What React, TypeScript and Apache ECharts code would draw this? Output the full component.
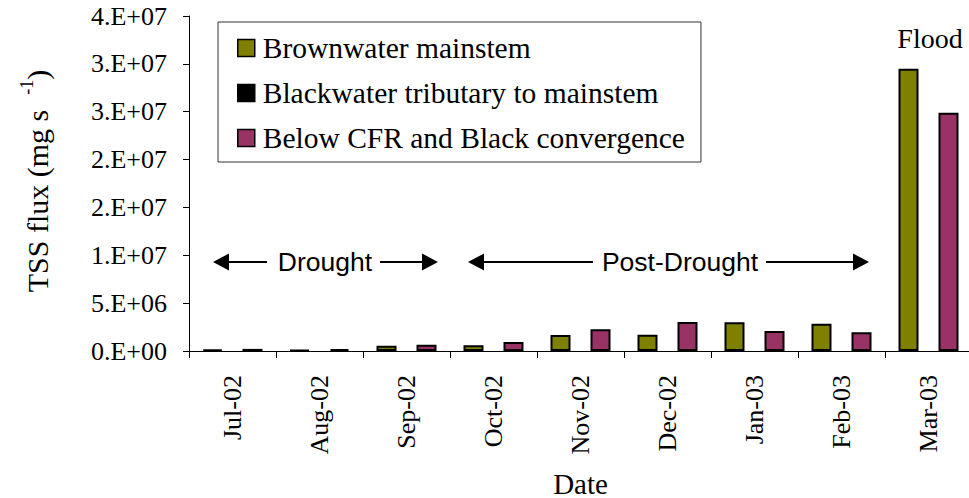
import React, { useEffect, useRef } from "react";
import * as echarts from "echarts";

const categories = ["Jul-02", "Aug-02", "Sep-02", "Oct-02", "Nov-02", "Dec-02", "Jan-03", "Feb-03", "Mar-03"];
const brownwater = [0.15e6, 0.1e6, 0.55e6, 0.6e6, 1.67e6, 1.7e6, 3.0e6, 2.86e6, 2.95e7];
const blackwater: (number | null)[] = [null, null, null, null, null, null, null, null, null];
const below = [0.22e6, 0.2e6, 0.66e6, 0.94e6, 2.27e6, 3.03e6, 2.1e6, 1.95e6, 2.49e7];
const yTickLabels = ["0.E+00", "5.E+06", "1.E+07", "2.E+07", "2.E+07", "3.E+07", "3.E+07", "4.E+07"];
const seriesNames = ["Brownwater mainstem", "Blackwater tributary to mainstem", "Below CFR and Black convergence"];

const SERIF = "Liberation Serif";
const SANS = "Liberation Sans";

export default function App() {
  const ref = useRef<HTMLDivElement>(null);
  useEffect(() => {
    document.body.style.margin = "0";
    const chart = echarts.init(ref.current!, null, { renderer: "svg" });
    const arrowY = 262;
    const head = (tipX: number, dir: number) => ({
      type: "polygon",
      shape: { points: [[tipX, arrowY], [tipX - dir * 16, arrowY - 8.5], [tipX - dir * 16, arrowY + 8.5]] },
      style: { fill: "#000" },
    });
    const hline = (x1: number, x2: number) => ({
      type: "line",
      shape: { x1, y1: arrowY, x2, y2: arrowY },
      style: { stroke: "#000", lineWidth: 2 },
    });
    const option: any = {
      animation: false,
      backgroundColor: "#fff",
      grid: { left: 189, top: 16, width: 783, height: 335, outerBoundsMode: "none", containLabel: false },
      legend: {
        orient: "vertical",
        left: 218,
        top: 22,
        padding: [11, 16, 9, 19],
        itemGap: 15,
        itemWidth: 17,
        itemHeight: 17,
        borderColor: "#333",
        borderWidth: 1,
        backgroundColor: "#fff",
        selectedMode: false,
        icon: "rect",
        itemStyle: { borderColor: "#000", borderWidth: 1.5 },
        textStyle: { fontFamily: SERIF, fontSize: 29.5, color: "#000", lineHeight: 30, padding: [0, 0, 0, 3] },
        data: seriesNames,
      },
      xAxis: {
        type: "category",
        data: categories,
        name: "Date",
        nameLocation: "middle",
        nameGap: 118,
        nameTextStyle: { fontFamily: SERIF, fontSize: 29, color: "#000" },
        axisLine: { show: true, lineStyle: { color: "#000", width: 1 } },
        axisTick: { show: true, length: 7, lineStyle: { color: "#000" } },
        axisLabel: { rotate: 90, margin: 24, fontFamily: SERIF, fontSize: 26, color: "#000", interval: 0 },
        splitLine: { show: false },
      },
      yAxis: {
        type: "value",
        min: 0,
        max: 3.5e7,
        interval: 5e6,
        axisLine: { show: true, lineStyle: { color: "#000", width: 1 } },
        axisTick: { show: true, length: 6, lineStyle: { color: "#000" } },
        splitLine: { show: false },
        axisLabel: {
          margin: 22,
          fontFamily: SERIF,
          fontSize: 26,
          color: "#000",
          formatter: (v: number) => yTickLabels[Math.round(v / 5e6)] ?? "",
        },
      },
      series: [
        { name: seriesNames[0], type: "bar", data: brownwater, barWidth: 20, barGap: "0%", itemStyle: { color: "#808000", borderColor: "#000", borderWidth: 2 } },
        { name: seriesNames[1], type: "bar", data: blackwater, barWidth: 20, barGap: "0%", itemStyle: { color: "#000000", borderColor: "#000", borderWidth: 2 } },
        { name: seriesNames[2], type: "bar", data: below, barWidth: 20, barGap: "0%", itemStyle: { color: "#993366", borderColor: "#000", borderWidth: 2 } },
      ],
      graphic: [
        {
          type: "text",
          x: 35,
          y: 181,
          rotation: Math.PI / 2,
          style: {
            text: "{a|TSS flux (mg s  }{s|-1}{a|)}",
            fontFamily: SERIF,
            fontSize: 30,
            align: "center",
            verticalAlign: "middle",
            rich: {
              a: { fontFamily: SERIF, fontSize: 30, fill: "#000", lineHeight: 34, verticalAlign: "bottom" },
              s: { fontFamily: SERIF, fontSize: 18, fill: "#000", lineHeight: 34, verticalAlign: "top" },
            },
          },
        },
        {
          type: "text",
          x: 930,
          y: 38,
          style: { text: "Flood", fontFamily: SERIF, fontSize: 28, fill: "#000", align: "center", verticalAlign: "middle" },
        },
        head(213, -1),
        hline(228, 267),
        { type: "text", x: 325, y: arrowY, style: { text: "Drought", fontFamily: SANS, fontSize: 26.5, fill: "#000", align: "center", verticalAlign: "middle" } },
        hline(380, 423),
        head(438, 1),
        head(468, -1),
        hline(483, 593),
        { type: "text", x: 680, y: arrowY, style: { text: "Post-Drought", fontFamily: SANS, fontSize: 26.5, fill: "#000", align: "center", verticalAlign: "middle" } },
        hline(766, 854),
        head(869, 1),
      ],
    };
    chart.setOption(option);
    return () => chart.dispose();
  }, []);
  return <div ref={ref} style={{ width: 969, height: 498 }} />;
}
